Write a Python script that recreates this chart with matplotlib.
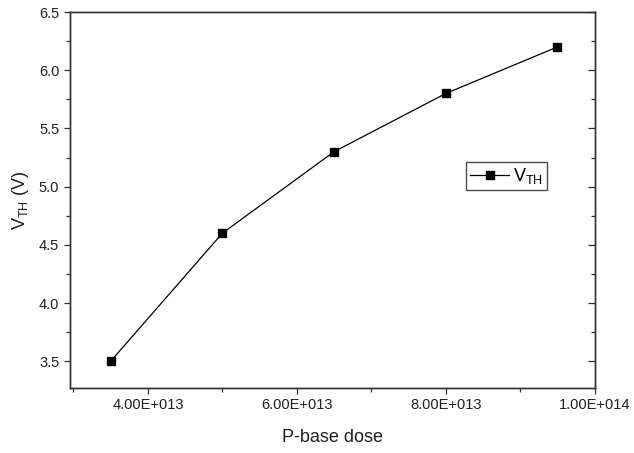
import matplotlib
matplotlib.use("Agg")
import matplotlib.pyplot as plt
from matplotlib.ticker import MultipleLocator, FixedLocator, FormatStrFormatter

plt.rcParams['font.family'] = ['Liberation Sans', 'DejaVu Sans']
plt.rcParams['mathtext.fontset'] = 'custom'
plt.rcParams['mathtext.rm'] = 'Liberation Sans'

dose = [3.5e13, 5.0e13, 6.5e13, 8.0e13, 9.5e13]
vth = [3.5, 4.6, 5.3, 5.8, 6.2]
xtick_vals = [4e13, 6e13, 8e13, 1e14]
xtick_labels = ["4.00E+013", "6.00E+013", "8.00E+013", "1.00E+014"]

spine_col = '#303030'

fig = plt.figure(figsize=(6.34, 4.53), dpi=100)
ax = fig.add_axes([0.110, 0.1435, 0.828, 0.83])

ax.plot(dose, vth, color='black', lw=0.9, marker='s', markersize=6,
        label=r'V$_{\mathregular{TH}}$')

ax.set_xlim(2.95e13, 1.0e14)
ax.set_ylim(3.27, 6.5)
ax.xaxis.set_major_locator(FixedLocator(xtick_vals))
ax.set_xticklabels(xtick_labels)
ax.xaxis.set_minor_locator(MultipleLocator(1e13))
ax.yaxis.set_major_locator(MultipleLocator(0.5))
ax.yaxis.set_minor_locator(MultipleLocator(0.25))
ax.yaxis.set_major_formatter(FormatStrFormatter('%.1f'))

ax.tick_params(axis='both', which='both', direction='out', labelsize=10.5,
               color=spine_col, labelcolor='#202020', width=0.9)
ax.tick_params(which='major', length=4)
ax.tick_params(which='minor', length=3)

# right axis with inward ticks
ax2 = ax.twinx()
ax2.set_ylim(ax.get_ylim())
ax2.yaxis.set_major_locator(MultipleLocator(0.5))
ax2.yaxis.set_minor_locator(MultipleLocator(0.25))
ax2.tick_params(axis='y', which='both', direction='in', labelright=False,
                color=spine_col, width=0.9)
ax2.tick_params(which='major', length=5)
ax2.tick_params(which='minor', length=3)

for a in (ax, ax2):
    for s in a.spines.values():
        s.set_linewidth(1.0)
        s.set_color(spine_col)

ax.set_xlabel('P-base dose', fontsize=13, color='#202020', labelpad=12)
ax.set_ylabel(r'V$_{\mathregular{TH}}$ (V)', fontsize=13, color='#202020', labelpad=6)

leg = ax.legend(loc='upper left', bbox_to_anchor=(0.755, 0.6), fontsize=13,
                frameon=True, fancybox=False, edgecolor='#202020',
                handlelength=2.2, handletextpad=0.2, borderpad=0.2,
                borderaxespad=0)
leg.get_frame().set_linewidth(1.0)

fig.savefig('out.png', dpi=100)
